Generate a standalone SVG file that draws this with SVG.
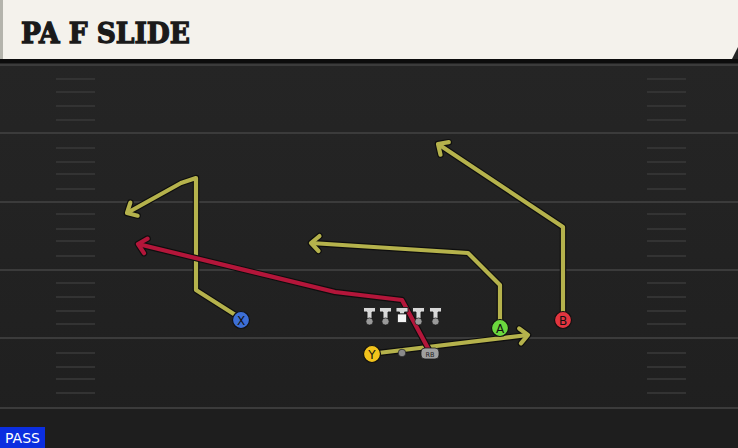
<svg xmlns="http://www.w3.org/2000/svg" width="738" height="448" viewBox="0 0 738 448">
<defs>
<linearGradient id="bg" x1="0" y1="0" x2="0" y2="1">
<stop offset="0" stop-color="#262626"/>
<stop offset="1" stop-color="#1f1f1f"/>
</linearGradient>
<marker id="hOut" markerUnits="userSpaceOnUse" orient="auto" markerWidth="30" markerHeight="30" refX="15" refY="15" viewBox="0 0 30 30" overflow="visible">
<path d="M7,7.5 L15,15 L7,22.5" fill="none" stroke="#0e0e0e" stroke-width="6.5" stroke-linecap="round" stroke-linejoin="round"/>
</marker>
<marker id="hY" markerUnits="userSpaceOnUse" orient="auto" markerWidth="30" markerHeight="30" refX="15" refY="15" viewBox="0 0 30 30" overflow="visible">
<path d="M7,7.5 L15,15 L7,22.5" fill="none" stroke="#b5b24c" stroke-width="4.2" stroke-linecap="round" stroke-linejoin="round"/>
</marker>
<marker id="hR" markerUnits="userSpaceOnUse" orient="auto" markerWidth="30" markerHeight="30" refX="15" refY="15" viewBox="0 0 30 30" overflow="visible">
<path d="M7,7.5 L15,15 L7,22.5" fill="none" stroke="#b3163a" stroke-width="4.2" stroke-linecap="round" stroke-linejoin="round"/>
</marker>
</defs>
<style>
.yard{stroke:#3b3b3b;stroke-width:2}
.hash{stroke:#333333;stroke-width:2}
.out{fill:none;stroke:#0e0e0e;stroke-width:6.5;stroke-linejoin:round;marker-end:url(#hOut)}
.ry{fill:none;stroke:#b5b24c;stroke-width:4.2;stroke-linejoin:round;marker-end:url(#hY)}
.rr{fill:none;stroke:#b3163a;stroke-width:4.2;stroke-linejoin:round;marker-end:url(#hR)}
.lbl{font-family:"DejaVu Sans","Liberation Sans",sans-serif;font-size:12px;fill:#111;text-anchor:middle}
.pc{stroke:#111;stroke-width:1.2}
.tee{fill:#d8d8d8;stroke:#1a1a1a;stroke-width:0.9}
.ball{fill:#9a9a9a;stroke:#1a1a1a;stroke-width:0.7}
</style>
<rect x="0" y="0" width="738" height="448" fill="url(#bg)"/>
<rect x="0" y="408" width="738" height="40" fill="#1e1e1e"/>
<g id="field">
<line class="yard" x1="0" y1="65" x2="738" y2="65"/>
<line class="yard" x1="0" y1="133" x2="738" y2="133"/>
<line class="yard" x1="0" y1="202" x2="738" y2="202"/>
<line class="yard" x1="0" y1="270" x2="738" y2="270"/>
<line class="yard" x1="0" y1="338" x2="738" y2="338"/>
<line class="yard" x1="0" y1="408" x2="738" y2="408"/>
<g id="hashL">
<line class="hash" x1="56" y1="79" x2="95" y2="79"/><line class="hash" x1="56" y1="92" x2="95" y2="92"/><line class="hash" x1="56" y1="106" x2="95" y2="106"/><line class="hash" x1="56" y1="120" x2="95" y2="120"/>
<line class="hash" x1="56" y1="148" x2="95" y2="148"/><line class="hash" x1="56" y1="162" x2="95" y2="162"/><line class="hash" x1="56" y1="174" x2="95" y2="174"/><line class="hash" x1="56" y1="189" x2="95" y2="189"/>
<line class="hash" x1="56" y1="214" x2="95" y2="214"/><line class="hash" x1="56" y1="229" x2="95" y2="229"/><line class="hash" x1="56" y1="241" x2="95" y2="241"/><line class="hash" x1="56" y1="256" x2="95" y2="256"/>
<line class="hash" x1="56" y1="283" x2="95" y2="283"/><line class="hash" x1="56" y1="297" x2="95" y2="297"/><line class="hash" x1="56" y1="311" x2="95" y2="311"/><line class="hash" x1="56" y1="324" x2="95" y2="324"/>
<line class="hash" x1="56" y1="353" x2="95" y2="353"/><line class="hash" x1="56" y1="367" x2="95" y2="367"/><line class="hash" x1="56" y1="379" x2="95" y2="379"/><line class="hash" x1="56" y1="393" x2="95" y2="393"/>
</g>
<g id="hashR">
<line class="hash" x1="647" y1="79" x2="686" y2="79"/><line class="hash" x1="647" y1="92" x2="686" y2="92"/><line class="hash" x1="647" y1="106" x2="686" y2="106"/><line class="hash" x1="647" y1="120" x2="686" y2="120"/>
<line class="hash" x1="647" y1="148" x2="686" y2="148"/><line class="hash" x1="647" y1="162" x2="686" y2="162"/><line class="hash" x1="647" y1="174" x2="686" y2="174"/><line class="hash" x1="647" y1="189" x2="686" y2="189"/>
<line class="hash" x1="647" y1="214" x2="686" y2="214"/><line class="hash" x1="647" y1="229" x2="686" y2="229"/><line class="hash" x1="647" y1="241" x2="686" y2="241"/><line class="hash" x1="647" y1="256" x2="686" y2="256"/>
<line class="hash" x1="647" y1="283" x2="686" y2="283"/><line class="hash" x1="647" y1="297" x2="686" y2="297"/><line class="hash" x1="647" y1="311" x2="686" y2="311"/><line class="hash" x1="647" y1="324" x2="686" y2="324"/>
<line class="hash" x1="647" y1="353" x2="686" y2="353"/><line class="hash" x1="647" y1="367" x2="686" y2="367"/><line class="hash" x1="647" y1="379" x2="686" y2="379"/><line class="hash" x1="647" y1="393" x2="686" y2="393"/>
</g>
</g>
<g id="header">
<rect x="0" y="59" width="738" height="4" fill="#0c0c0c"/>
<polygon points="0,0 738,0 738,47 732,59 0,59" fill="#f4f2ec"/>
<rect x="0" y="0" width="3" height="59" fill="#b4b4ac"/>
<text x="21" y="42.5" font-family="'DejaVu Serif','Liberation Serif',serif" font-weight="bold" font-size="28" fill="#1a1a1a" stroke="#1a1a1a" stroke-width="1.3" textLength="169" lengthAdjust="spacingAndGlyphs">PA F SLIDE</text>
</g>
<g id="connectors">
<path class="out" d="M237,316 L196,290 L196,178 L181,183 L127,213"/>
<path class="ry" d="M237,316 L196,290 L196,178 L181,183 L127,213"/>
<path class="out" d="M500,322 L500,285 L468,253 L311,243"/>
<path class="ry" d="M500,322 L500,285 L468,253 L311,243"/>
<path class="out" d="M563,314 L563,227 L438,144"/>
<path class="ry" d="M563,314 L563,227 L438,144"/>
<path class="out" d="M378,353 L528,335"/>
<path class="ry" d="M378,353 L528,335"/>
<path class="out" d="M429,350 L402,300 L335,292 L138,244"/>
<path class="rr" d="M429,350 L402,300 L335,292 L138,244"/>
</g>
<g id="line">
<g id="LT"><path class="tee" d="M363.5,307.5 h12 v4.5 h-3.5 v7 h-5 v-7 h-3.5z"/><circle class="ball" cx="369.5" cy="321.5" r="3.6"/></g>
<g id="LG"><path class="tee" d="M379.5,307.5 h12 v4.5 h-3.5 v7 h-5 v-7 h-3.5z"/><circle class="ball" cx="385.5" cy="321.5" r="3.6"/></g>
<g id="C"><path class="tee" d="M396,307.5 h12 v4.5 h-3.5 v2 h-5 v-2 h-3.5z"/><rect x="397.5" y="314" width="9" height="8.5" fill="#f4f4f4" stroke="#1a1a1a" stroke-width="0.7"/></g>
<g id="RG"><path class="tee" d="M412.5,307.5 h12 v4.5 h-3.5 v7 h-5 v-7 h-3.5z"/><circle class="ball" cx="418.5" cy="321.5" r="3.6"/></g>
<g id="RT"><path class="tee" d="M429.5,307.5 h12 v4.5 h-3.5 v7 h-5 v-7 h-3.5z"/><circle class="ball" cx="435.5" cy="321.5" r="3.6"/></g>
</g>
<g id="QB"><circle cx="402" cy="353" r="3.8" fill="#8a8a8a" stroke="#1a1a1a" stroke-width="0.7"/></g>
<g id="RB"><rect x="421" y="348" width="18" height="11" rx="4" fill="#a0a0a0" stroke="#1a1a1a" stroke-width="0.8"/><text x="430" y="356.5" font-family="'DejaVu Sans','Liberation Sans',sans-serif" font-size="6.5" fill="#222" text-anchor="middle">RB</text></g>
<g id="X"><circle class="pc" cx="241" cy="320" r="8.5" fill="#3d6fd6"/><text class="lbl" x="241" y="324.5">X</text></g>
<g id="Y"><circle class="pc" cx="372" cy="354" r="8.5" fill="#f2c31c"/><text class="lbl" x="372" y="358.5">Y</text></g>
<g id="A"><circle class="pc" cx="500" cy="328" r="8.5" fill="#6bd83e"/><text class="lbl" x="500" y="332.5">A</text></g>
<g id="B"><circle class="pc" cx="563" cy="320" r="8.5" fill="#e2353f"/><text class="lbl" x="563" y="324.5">B</text></g>
<g id="pass"><rect x="0" y="427" width="45" height="21" fill="#0b2ee0"/><text x="22.5" y="443" font-family="'DejaVu Sans','Liberation Sans',sans-serif" font-size="14" fill="#ffffff" text-anchor="middle">PASS</text></g>
</svg>
